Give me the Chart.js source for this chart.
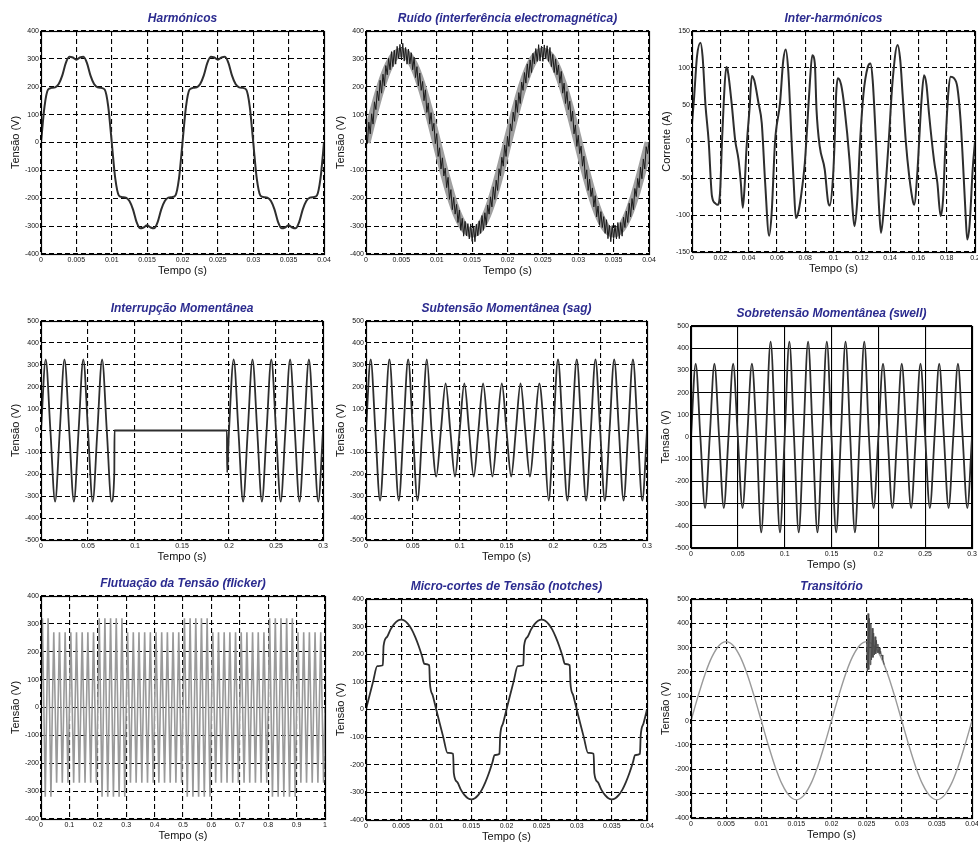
<!DOCTYPE html>
<html>
<head>
<meta charset="utf-8">
<script src="https://cdn.jsdelivr.net/npm/chart.js"></script>
<style>
  body { margin:0; background:#fff; width:978px; height:843px; position:relative; overflow:hidden; font-family: Arial, "Liberation Sans", sans-serif; }
  canvas { position:absolute; }
</style>
</head>
<body>
<canvas id="c1"></canvas><canvas id="c2"></canvas><canvas id="c3"></canvas>
<canvas id="c4"></canvas><canvas id="c5"></canvas><canvas id="c6"></canvas>
<canvas id="c7"></canvas><canvas id="c8"></canvas><canvas id="c9"></canvas>
<script>
// tick labels
const xT04 = [0, 0.005, 0.01, 0.015, 0.02, 0.025, 0.03, 0.035, 0.04];
const xT02 = [0, 0.02, 0.04, 0.06, 0.08, 0.1, 0.12, 0.14, 0.16, 0.18, 0.2];
const xT03 = [0, 0.05, 0.1, 0.15, 0.2, 0.25, 0.3];
const xT1 = [0, 0.1, 0.2, 0.3, 0.4, 0.5, 0.6, 0.7, 0.8, 0.9, 1];
const yT400 = [-400, -300, -200, -100, 0, 100, 200, 300, 400];
const yT500 = [-500, -400, -300, -200, -100, 0, 100, 200, 300, 400, 500];
const yT150 = [-150, -100, -50, 0, 50, 100, 150];
const yT9 = [-400, -300, -200, -100, 0, 100, 200, 300, 400, 500];

// Harmónicos, every 0.0005 s
const harmStep = 0.0005;
const harmVals = [0,130,190,196,198,210,240,285,308,305,297,305,308,285,240,210,198,196,190,130,
  0,-130,-190,-196,-198,-210,-240,-285,-308,-305,-297,-305,-308,-285,-240,-210,-198,-196,-190,-130,
  0,130,190,196,198,210,240,285,308,305,297,305,308,285,240,210,198,196,190,130,
  0,-130,-190,-196,-198,-210,-240,-285,-308,-305,-297,-305,-308,-285,-240,-210,-198,-196,-190,-130,
  0];

// Ruído: sine body (every 0.001 s) and the noisy trace (every 0.0002 s)
const sineStep = 0.001;
const sineVals = [0,100,191,263,309,325,309,263,191,100,0,-100,-191,-263,-309,-325,-309,-263,-191,-100,
  0,100,191,263,309,325,309,263,191,100,0,-100,-191,-263,-309,-325,-309,-263,-191,-100,0];
const noiseStep = 0.0002;
const noiseVals = [0,-4,73,31,103,66,146,118,185,150,
  223,177,245,203,276,243,302,261,326,272,
  331,281,345,302,352,301,356,292,341,281,
  335,282,322,261,306,233,272,203,249,187,
  219,150,189,108,142,66,107,41,69,-4,
  32,-50,-19,-95,-55,-120,-92,-162,-125,-204,
  -169,-241,-197,-257,-222,-287,-242,-315,-272,-336,
  -283,-335,-291,-346,-292,-355,-302,-356,-293,-335,
  -281,-326,-262,-315,-252,-297,-224,-257,-195,-231,
  -159,-204,-135,-172,-94,-120,-53,-85,-9,-50,
  22,-14,67,41,109,76,152,108,179,140,
  217,187,251,213,282,233,296,251,320,282,
  337,291,351,292,346,291,350,302,347,291,
  341,272,316,251,300,243,278,213,255,177,
  213,140,183,118,148,76,113,31,63,-14,
  26,-40,-13,-85,-49,-130,-98,-172,-131,-194,
  -163,-231,-191,-267,-228,-297,-248,-305,-266,-326,
  -277,-345,-297,-356,-298,-345,-296,-346,-287,-345,
  -287,-336,-268,-305,-246,-287,-218,-267,-201,-241,
  -165,-194,-129,-162,-88,-130,-59,-95,-15,-40,
  0];

// Inter-harmónicos
const interT = [0,0.0015,0.0035,0.006,0.0075,0.0095,0.0118,0.0141,0.0165,0.018,0.0198,0.0212,0.0224,0.0242,0.0252,
  0.028,0.0305,0.0329,0.0345,0.0359,0.0372,0.0385,0.0406,0.0423,0.044,0.047,0.0493,0.0517,0.0545,0.0563,0.0587,
  0.0622,0.0645,0.0662,0.068,0.0704,0.072,0.0734,0.075,0.077,0.0797,0.0814,0.0833,0.085,0.0868,0.088,0.0903,
  0.0938,0.0961,0.0973,0.0997,0.1008,0.1019,0.1031,0.1054,0.1078,0.1113,0.1137,0.1148,0.1167,0.1188,0.1212,
  0.1242,0.1261,0.1277,0.13,0.1324,0.1336,0.1359,0.139,0.1418,0.1453,0.1472,0.1488,0.1511,0.1535,0.1563,0.157,
  0.1594,0.1605,0.1622,0.164,0.1657,0.1675,0.171,0.1734,0.1757,0.1774,0.1792,0.1811,0.1828,0.1851,0.1875,
  0.1898,0.1914,0.1933,0.1945,0.1961,0.1985,0.2];
const interV = [25,60,115,134,115,50,0,-74,-84,-86,-70,0,52,101,97,
  52,2,-25,-56,-90,-60,-10,43,89,83,52,25,-56,-128,-97,0,
  52,110,125,97,0,-61,-104,-97,-75,-30,20,80,117,106,43,-7,
  -38,-81,-87,-47,0,65,86,77,45,-25,-97,-115,-83,0,65,
  101,106,83,0,-97,-124,-83,0,83,131,110,65,0,-47,-83,-86,
  -38,0,56,90,77,38,-25,-56,-101,-79,0,65,88,86,74,
  29,-25,-97,-133,-115,-34,0];

// Interrupção momentânea
const interrT = [0,0.005,0.01,0.015,0.02,0.025,0.03,0.035,0.04,0.045,0.05,0.055,0.06,0.065,0.07,0.075,
  0.078,0.0782,0.1978,0.198,0.2,0.205,0.21,0.215,0.22,0.225,0.23,0.235,0.24,0.245,0.25,0.255,0.26,0.265,
  0.27,0.275,0.28,0.285,0.29,0.295,0.3];
const interrV = [0,325,0,-325,0,325,0,-325,0,325,0,-325,0,325,0,-325,
  -191,0,0,-191,0,325,0,-325,0,325,0,-325,0,325,0,-325,0,325,
  0,-325,0,325,0,-325,0];

// Sag and swell, every 0.005 s
const quarterStep = 0.005;
const sagVals = [0,325,0,-320,0,325,0,-320,0,325,0,-320,0,325,0,
  -210,0,215,0,-210,0,215,0,-210,0,215,0,-210,0,215,0,-210,0,215,0,-210,0,215,0,
  -320,0,325,0,-320,0,325,0,-320,0,325,0,-320,0,325,0,-320,0,325,0,-320,0];
const swellVals = [0,330,0,-320,0,330,0,-320,0,330,0,-320,0,330,0,
  -430,0,430,0,-430,0,430,0,-430,0,430,0,-430,0,430,0,-430,0,430,0,-430,0,430,0,
  -320,0,330,0,-320,0,330,0,-320,0,330,0,-320,0,330,0,-320,0,330,0,-320,0];

// Flicker: peak and trough of each 0.02 s cycle
const flickerCycle = 0.02;
const flickerPeaks = [320,320,270,270,270,270,270,270,270,270,320,320,320,320,320,
  270,270,270,270,270,270,270,270,270,270,320,320,320,320,320,
  270,270,270,270,270,270,270,270,270,270,320,320,320,320,320,270,270,270,270,270];
const flickerTroughs = [-320,-320,-270,-270,-270,-270,-270,-270,-270,-270,-320,-320,-320,-320,-320,
  -270,-270,-270,-270,-270,-270,-270,-270,-270,-270,-320,-320,-320,-320,-320,
  -270,-270,-270,-270,-270,-270,-270,-270,-270,-270,-320,-320,-320,-320,-320,-270,-270,-270,-270,-270];

// Notches
const notchT = [0,0.0005,0.001,0.0016,0.0024,0.0025,0.003,0.0035,0.004,0.0045,0.005,0.0055,0.006,0.0065,0.007,0.0075,0.008,0.0083,0.009,0.0091,0.0095,
  0.01,0.0105,0.011,0.0116,0.0124,0.0125,0.013,0.0135,0.014,0.0145,0.015,0.0155,0.016,0.0165,0.017,0.0175,0.018,0.0183,0.019,0.0191,0.0195,
  0.02,0.0205,0.021,0.0216,0.0224,0.0225,0.023,0.0235,0.024,0.0245,0.025,0.0255,0.026,0.0265,0.027,0.0275,0.028,0.0283,0.029,0.0291,0.0295,
  0.03,0.0305,0.031,0.0316,0.0324,0.0325,0.033,0.0335,0.034,0.0345,0.035,0.0355,0.036,0.0365,0.037,0.0375,0.038,0.0383,0.039,0.0391,0.0395,0.04];
const notchV = [0,51,100,157,160,230,263,290,309,321,325,321,309,290,263,230,191,165,160,95,51,
  0,-51,-100,-157,-160,-230,-263,-290,-309,-321,-325,-321,-309,-290,-263,-230,-191,-165,-160,-95,-51,
  0,51,100,157,160,230,263,290,309,321,325,321,309,290,263,230,191,165,160,95,51,
  0,-51,-100,-157,-160,-230,-263,-290,-309,-321,-325,-321,-309,-290,-263,-230,-191,-165,-160,-95,-51,0];

// Transitório: oscillation riding on the second peak, every 0.0001 s from 0.025 s
const transStart = 0.025;
const transStep = 0.0001;
const transVals = [325,200,440,210,420,230,400,250,380,260,360,270,345,275,330,280,315,280,300,275,285,265,270,250,245,230];

const pts = (vals, step, t0 = 0) => vals.map((v, i) => ({ x: t0 + i * step, y: v }));
const pairs = (ts, vs) => ts.map((t, i) => ({ x: t, y: vs[i] }));

const flickerPts = [];
flickerPeaks.forEach((a, k) => {
  const t0 = k * flickerCycle;
  flickerPts.push({ x: t0, y: 0 }, { x: t0 + flickerCycle / 4, y: a },
    { x: t0 + flickerCycle / 2, y: 0 }, { x: t0 + 3 * flickerCycle / 4, y: flickerTroughs[k] });
});
flickerPts.push({ x: 1, y: 0 });

const boxPlugin = {
  id: 'box',
  afterDatasetsDraw(chart) {
    const a = chart.chartArea, ctx = chart.ctx;
    ctx.save();
    ctx.strokeStyle = '#000';
    ctx.lineWidth = 1.2;
    ctx.strokeRect(Math.round(a.left) + 0.5, Math.round(a.top) + 0.5, Math.round(a.right - a.left), Math.round(a.bottom - a.top));
    ctx.restore();
  }
};

const fixTicks = list => axis => { axis.ticks = list.map(v => ({ value: v })); };

function panel(id, rect, title, yTitle, xTicks, yTicks, datasets, solidGrid) {
  const [L, T, R, B] = rect;
  const padR = 14, yW = 41, titleH = 21, xH = 28;
  const cv = document.getElementById(id);
  cv.width = yW + (R - L) + padR;
  cv.height = titleH + (B - T) + xH;
  cv.style.left = (L - yW) + 'px';
  cv.style.top = (T - titleH) + 'px';
  const grid = { color: '#000', lineWidth: 1.1, drawTicks: false };
  const border = { display: false, dash: solidGrid ? [] : [5, 3] };
  const tickFont = { size: 7, family: 'Arial' };
  new Chart(cv, {
    type: 'line',
    data: { datasets },
    options: {
      responsive: false,
      animation: false,
      layout: { padding: { top: 0, left: 0, right: padR, bottom: 0 } },
      elements: { point: { radius: 0 } },
      plugins: {
        legend: { display: false },
        tooltip: { enabled: false },
        title: {
          display: true, text: title, color: '#2b2b8f', fullSize: false,
          font: { size: 12, weight: 'bold', style: 'italic', family: 'Arial' },
          padding: { top: 1.6, bottom: 5 }
        }
      },
      scales: {
        x: {
          type: 'linear', min: xTicks[0], max: xTicks[xTicks.length - 1],
          afterBuildTicks: fixTicks(xTicks),
          afterFit: s => { s.height = xH; },
          grid, border,
          ticks: { font: tickFont, color: '#111', padding: 2, maxRotation: 0, autoSkip: false, callback: v => String(v) },
          title: { display: true, text: 'Tempo (s)', color: '#111', font: { size: 11, family: 'Arial' }, padding: { top: 0, bottom: 4 } }
        },
        y: {
          type: 'linear', min: yTicks[0], max: yTicks[yTicks.length - 1],
          afterBuildTicks: fixTicks(yTicks),
          afterFit: s => { s.width = yW; },
          grid, border,
          ticks: { font: tickFont, color: '#111', padding: 2, autoSkip: false, callback: v => String(v) },
          title: { display: true, text: yTitle, color: '#111', font: { size: 11, family: 'Arial' }, padding: { top: 9, bottom: 0 } }
        }
      }
    },
    plugins: [boxPlugin]
  });
}

const dark = (data, extra) => Object.assign({ data, borderColor: '#2e2e2e', borderWidth: 1.8, cubicInterpolationMode: 'monotone' }, extra || {});

panel('c1', [41, 31, 324, 254], 'Harmónicos', 'Tensão (V)', xT04, yT400,
  [dark(pts(harmVals, harmStep), { borderWidth: 2 })]);

panel('c2', [366, 31, 649, 254], 'Ruído (interferência electromagnética)', 'Tensão (V)', xT04, yT400, [
  { data: pts(noiseVals, noiseStep), borderColor: '#1a1a1a', borderWidth: 1, tension: 0 },
  { data: pts(sineVals, sineStep), borderColor: '#a0a0a0', borderWidth: 9, cubicInterpolationMode: 'monotone' }
]);

panel('c3', [692, 31, 975, 252], 'Inter-harmónicos', 'Corrente (A)', xT02, yT150,
  [dark(pairs(interT, interV), { borderWidth: 2 })]);

panel('c4', [41, 321, 323, 540], 'Interrupção Momentânea', 'Tensão (V)', xT03, yT500,
  [dark(pairs(interrT, interrV))]);

panel('c5', [366, 321, 647, 540], 'Subtensão Momentânea (sag)', 'Tensão (V)', xT03, yT500,
  [dark(pts(sagVals, quarterStep))]);

panel('c6', [691, 326, 972, 548], 'Sobretensão Momentânea (swell)', 'Tensão (V)', xT03, yT500,
  [dark(pts(swellVals, quarterStep))], true);

panel('c7', [41, 596, 325, 819], 'Flutuação da Tensão (flicker)', 'Tensão (V)', xT1, yT400,
  [{ data: flickerPts, borderColor: '#9a9a9a', borderWidth: 1.6, tension: 0 }]);

panel('c8', [366, 599, 647, 820], 'Micro-cortes de Tensão (notches)', 'Tensão (V)', xT04, yT400,
  [dark(pairs(notchT, notchV))]);

panel('c9', [691, 599, 972, 818], 'Transitório', 'Tensão (V)', xT04, yT9, [
  { data: pts(transVals, transStep, transStart), borderColor: '#4a4a4a', borderWidth: 1, tension: 0 },
  { data: pts(sineVals, sineStep), borderColor: '#9a9a9a', borderWidth: 1.4, cubicInterpolationMode: 'monotone' }
]);
</script>
</body>
</html>
